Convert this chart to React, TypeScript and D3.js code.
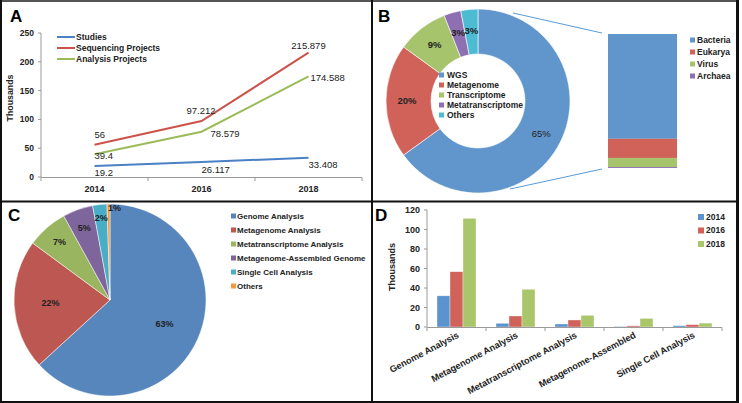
import React from 'react';
import * as d3 from 'd3';

// ---------- Panel A data ----------
const years = ['2014', '2016', '2018'];
const studies = [19.2, 26.117, 33.408];
const sequencing = [56, 97.212, 215.879];
const analysisProj = [39.4, 78.579, 174.588];
const yTicksA = [0, 50, 100, 150, 200, 250];

// ---------- Panel B data ----------
const donutCats = ['WGS', 'Metagenome', 'Transcriptome', 'Metatranscriptome', 'Others'];
const donutVals = [65, 20, 9, 3, 3];
const barCats = ['Bacteria', 'Eukarya', 'Virus', 'Archaea'];
const barVals = [78.2, 14.3, 6.8, 0.7];

// ---------- Panel C data ----------
const pieCats = ['Genome Analysis', 'Metagenome Analysis', 'Metatranscriptome Analysis', 'Metagenome-Assembled Genome', 'Single Cell Analysis', 'Others'];
const pieVals = [63.2, 21.9, 6.9, 5.1, 2.4, 0.5];

// ---------- Panel D data ----------
const dCats = ['Genome Analysis', 'Metagenome Analysis', 'Metatranscriptome Analysis', 'Metagenome-Assembled', 'Single Cell Analysis'];
const dYears = ['2014', '2016', '2018'];
const d2014 = [32, 3.8, 3.1, 0.6, 1.4];
const d2016 = [56.7, 11.3, 7.2, 1.2, 2.4];
const d2018 = [111.5, 38.7, 12, 8.9, 4];
const yTicksD = [0, 20, 40, 60, 80, 100, 120];

const FONT = '"Liberation Sans", Arial, sans-serif';
const AXIS = '#9a9a9a';
const TXT = '#222';

const lineColors = ['#4a80c4', '#cc524b', '#9bbb59'];
const donutColors = ['#6096cb', '#d0625a', '#a6c46b', '#8e6fb1', '#4dbcd3'];
const barColors = ['#6096cb', '#d0625a', '#a6c46b', '#8e6fb1'];
const pieColors = ['#5686bb', '#bc5752', '#9ab560', '#7e659c', '#4aadc6', '#f39a3c'];
const dColors = ['#5b93cf', '#d0625a', '#a9c66a'];

function PanelA() {
  const x = d3.scaleBand().domain(years).range([41, 362]);
  const y = d3.scaleLinear().domain([0, 250]).range([177, 33]);
  const cx = (d: string) => (x(d) as number) + x.bandwidth() / 2;
  const series = [
    { name: 'Studies', vals: studies },
    { name: 'Sequencing Projects', vals: sequencing },
    { name: 'Analysis Projects', vals: analysisProj },
  ];
  // label placement offsets (layout only)
  const offs = [
    [[0, 10, 'start'], [0, 11, 'start'], [0, 10, 'start']],
    [[0, -7, 'start'], [14, -7, 'end'], [0, -4, 'middle']],
    [[0, 5, 'start'], [9, 5, 'start'], [2, 5, 'start']],
  ] as [number, number, string][][];
  const line = d3.line<number>().x((_, i) => cx(years[i])).y((v) => y(v));
  return (
    <g>
      <text x={10} y={22} fontSize={17} fontWeight="bold" fontFamily={FONT}>A</text>
      <line x1={41} x2={41} y1={33} y2={177} stroke={AXIS} />
      <line x1={41} x2={362} y1={177.5} y2={177.5} stroke={AXIS} />
      {yTicksA.map((t) => (
        <g key={t}>
          <line x1={38} x2={41} y1={y(t)} y2={y(t)} stroke={AXIS} />
          <text x={34} y={y(t)} dy="0.35em" textAnchor="end" fontSize={8.5} fontWeight="bold" fontFamily={FONT} fill={TXT}>{t}</text>
        </g>
      ))}
      {[...years.map((d) => x(d) as number), 362].map((p, i) => (
        <line key={i} x1={p} x2={p} y1={177.5} y2={181} stroke={AXIS} />
      ))}
      {years.map((d) => (
        <text key={d} x={cx(d)} y={192} textAnchor="middle" fontSize={9} fontWeight="bold" fontFamily={FONT} fill={TXT}>{d}</text>
      ))}
      <text transform="translate(13,98) rotate(-90)" textAnchor="middle" fontSize={8.8} fontWeight="bold" fontFamily={FONT} fill={TXT}>Thousands</text>
      {series.map((s, si) => (
        <path key={s.name} d={line(s.vals) as string} fill="none" stroke={lineColors[si]} strokeWidth={2} />
      ))}
      {series.map((s, si) =>
        s.vals.map((v, i) => {
          const [dx, dy, anc] = offs[si][i];
          return (
            <text key={s.name + i} x={cx(years[i]) + dx} y={y(v) + dy} textAnchor={anc as any} fontSize={9.5} fontFamily={FONT} fill={TXT}>{String(v)}</text>
          );
        })
      )}
      {series.map((s, si) => (
        <g key={'lg' + si}>
          <line x1={57} x2={75} y1={37 + si * 11} y2={37 + si * 11} stroke={lineColors[si]} strokeWidth={2} />
          <text x={76} y={37 + si * 11} dy="0.35em" fontSize={8.5} fontWeight="bold" fontFamily={FONT} fill={TXT}>{s.name}</text>
        </g>
      ))}
    </g>
  );
}

function PanelB() {
  const cx = 478, cy = 101, R = 92, r0 = 47;
  const pie = d3.pie<number>().sort(null).value((d) => d)(donutVals);
  const arc = d3.arc<d3.PieArcDatum<number>>().innerRadius(r0).outerRadius(R);
  const labelArc = d3.arc<d3.PieArcDatum<number>>().innerRadius(71).outerRadius(71);
  // stacked from the top: first category at the top
  const y = d3.scaleLinear().domain([0, 100]).range([34, 168]);
  const stack: { y0: number; y1: number }[] = [];
  let acc = 0;
  barVals.forEach((v) => { stack.push({ y0: acc, y1: acc + v }); acc += v; });
  const bx0 = 608, bx1 = 677;
  return (
    <g>
      <text x={378} y={22} fontSize={17} fontWeight="bold" fontFamily={FONT}>B</text>
      <g transform={`translate(${cx},${cy})`}>
        {pie.map((p, i) => (
          <path key={i} d={arc(p) as string} fill={donutColors[i]} stroke="#fff" strokeWidth={0.6} />
        ))}
        {pie.map((p, i) => {
          const [lx, ly] = labelArc.centroid(p);
          return (
            <text key={'l' + i} x={lx} y={ly} dy="0.35em" textAnchor="middle" fontSize={9.5} fontWeight={i === 0 ? 'normal' : 'bold'} fontFamily={FONT} fill={TXT}>{Math.round(donutVals[i]) + '%'}</text>
          );
        })}
      </g>
      {donutCats.map((c, i) => (
        <g key={c}>
          <rect x={439} y={72.5 + i * 10} width={5} height={5} fill={donutColors[i]} />
          <text x={447} y={75 + i * 10} dy="0.35em" fontSize={8.5} fontWeight="bold" fontFamily={FONT} fill={TXT}>{c}</text>
        </g>
      ))}
      <line x1={513} y1={13} x2={602} y2={33} stroke="#5b9bd5" strokeWidth={1} />
      <line x1={510} y1={189} x2={602} y2={169} stroke="#5b9bd5" strokeWidth={1} />
      {stack.map((s, i) => (
        <rect key={i} x={bx0} width={bx1 - bx0} y={y(s.y0)} height={y(s.y1) - y(s.y0)} fill={barColors[i]} />
      ))}
      {barCats.map((c, i) => (
        <g key={c}>
          <rect x={690} y={37.5 + i * 12} width={5} height={5} fill={barColors[i]} />
          <text x={697} y={40 + i * 12} dy="0.35em" fontSize={8.5} fontWeight="bold" fontFamily={FONT} fill={TXT}>{c}</text>
        </g>
      ))}
    </g>
  );
}

function PanelC() {
  const cx = 110, cy = 300, R = 96;
  const pie = d3.pie<number>().sort(null).value((d) => d)(pieVals);
  const arc = d3.arc<d3.PieArcDatum<number>>().innerRadius(0).outerRadius(R);
  const lr = (v: number) => (v >= 10 ? 0.62 : v >= 4 ? 0.8 : v >= 1.5 ? 0.86 : 0.96) * R;
  return (
    <g>
      <text x={8} y={221} fontSize={17} fontWeight="bold" fontFamily={FONT}>C</text>
      <g transform={`translate(${cx},${cy})`}>
        {pie.map((p, i) => (
          <path key={i} d={arc(p) as string} fill={pieColors[i]} stroke="#fff" strokeWidth={0.5} />
        ))}
        {pie.map((p, i) => {
          const a = (p.startAngle + p.endAngle) / 2;
          const rr = lr(pieVals[i]);
          const shift = pieVals[i] < 1 ? 6 : 0;
          return (
            <text key={'l' + i} x={Math.sin(a) * rr + shift} y={-Math.cos(a) * rr} dy="0.35em" textAnchor="middle" fontSize={9} fontWeight="bold" fontFamily={FONT} fill={TXT}>{Math.round(pieVals[i]) + '%'}</text>
          );
        })}
      </g>
      {pieCats.map((c, i) => (
        <g key={c}>
          <rect x={231} y={213.5 + i * 14} width={5} height={5} fill={pieColors[i]} />
          <text x={237} y={216 + i * 14} dy="0.35em" fontSize={8} fontWeight="bold" fontFamily={FONT} fill={TXT}>{c}</text>
        </g>
      ))}
    </g>
  );
}

function PanelD() {
  const x = d3.scaleBand().domain(dCats).range([427, 722]);
  const xi = d3.scaleBand().domain(dYears).range([0, x.bandwidth()]).paddingInner(0).paddingOuter(0.77);
  const y = d3.scaleLinear().domain([0, 120]).range([327, 210]);
  const seriesD = [d2014, d2016, d2018];
  return (
    <g>
      <text x={375} y={221} fontSize={17} fontWeight="bold" fontFamily={FONT}>D</text>
      {seriesD.map((vals, si) =>
        vals.map((v, ci) => (
          <rect key={si + '-' + ci} x={(x(dCats[ci]) as number) + (xi(dYears[si]) as number)} width={xi.bandwidth()} y={y(v)} height={y(0) - y(v)} fill={dColors[si]} stroke="rgba(255,255,255,0.6)" strokeWidth={0.6} />
        ))
      )}
      <line x1={427} x2={427} y1={210} y2={327} stroke={AXIS} />
      <line x1={427} x2={722} y1={327.5} y2={327.5} stroke={AXIS} />
      {yTicksD.map((t) => (
        <g key={t}>
          <line x1={424} x2={427} y1={y(t)} y2={y(t)} stroke={AXIS} />
          <text x={420} y={y(t)} dy="0.35em" textAnchor="end" fontSize={9} fontWeight="bold" fontFamily={FONT} fill={TXT}>{t}</text>
        </g>
      ))}
      {[...dCats.map((d) => x(d) as number), 722].map((p, i) => (
        <line key={i} x1={p} x2={p} y1={327.5} y2={331} stroke={AXIS} />
      ))}
      {dCats.map((c) => {
        const gx = (x(c) as number) + x.bandwidth() / 2 + 3;
        return (
          <text key={c} transform={`translate(${gx},${337}) rotate(-28)`} textAnchor="end" fontSize={9.2} fontWeight="bold" fontFamily={FONT} fill={TXT}>{c}</text>
        );
      })}
      <text transform="translate(395,267) rotate(-90)" textAnchor="middle" fontSize={9} fontWeight="bold" fontFamily={FONT} fill={TXT}>Thousands</text>
      {dYears.map((yr, i) => (
        <g key={yr}>
          <rect x={698} y={214 + i * 13.5} width={6} height={6} fill={dColors[i]} />
          <text x={706} y={217 + i * 13.5} dy="0.35em" fontSize={8.5} fontWeight="bold" fontFamily={FONT} fill={TXT}>{yr}</text>
        </g>
      ))}
    </g>
  );
}

export default function App() {
  return (
    <svg width={742} height={403} style={{ position: 'absolute', left: 0, top: 0, background: '#fff' }} fontFamily={FONT}>
      <rect x={0} y={0} width={742} height={403} fill="#fff" />
      <PanelA />
      <PanelB />
      <PanelC />
      <PanelD />
      <line x1={0} x2={739} y1={1} y2={1} stroke="#555" strokeWidth={2} />
      <line x1={1} x2={1} y1={0} y2={403} stroke="#111" strokeWidth={2} />
      <line x1={737.5} x2={737.5} y1={0} y2={403} stroke="#111" strokeWidth={3} />
      <line x1={0} x2={739} y1={402} y2={402} stroke="#111" strokeWidth={2} />
      <line x1={372} x2={372} y1={0} y2={403} stroke="#111" strokeWidth={2} />
      <line x1={0} x2={739} y1={201.5} y2={201.5} stroke="#111" strokeWidth={2} />
    </svg>
  );
}
